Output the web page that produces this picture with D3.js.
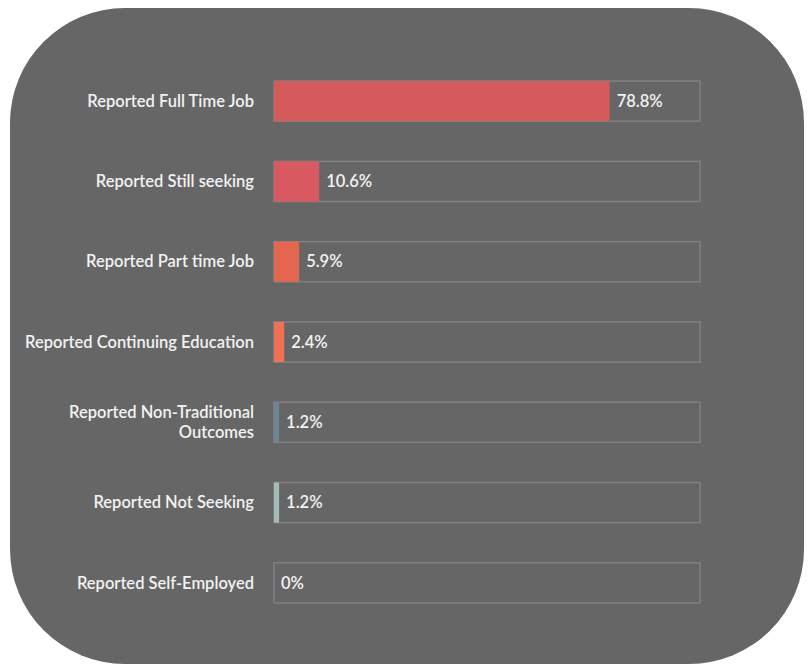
<!DOCTYPE html>
<html><head><meta charset="utf-8">
<script src="https://cdn.jsdelivr.net/npm/d3@7"></script>
<style>html,body{margin:0;padding:0;background:#fff;}</style>
</head><body>
<script>
const categories = [
  ["Reported Full Time Job"],
  ["Reported Still seeking"],
  ["Reported Part time Job"],
  ["Reported Continuing Education"],
  ["Reported Non-Traditional", "Outcomes"],
  ["Reported Not Seeking"],
  ["Reported Self-Employed"]
];
const values = [78.8, 10.6, 5.9, 2.4, 1.2, 1.2, 0];
const valueLabels = ["78.8%", "10.6%", "5.9%", "2.4%", "1.2%", "1.2%", "0%"];
const colors = ["#d45a5b", "#d85a60", "#e4664e", "#ef7052", "#6f8794", "#a5bbb8", "#a5bbb8"];

const W = 812, H = 666;
const svg = d3.select("body").append("svg").attr("width", W).attr("height", H);
svg.append("rect").attr("x", 10).attr("y", 8).attr("width", 794).attr("height", 656)
  .attr("rx", 115).attr("ry", 115).attr("fill", "#666666");

const x = d3.scaleLinear().domain([0, 100]).range([274, 700]);
const y = d3.scaleBand().domain(d3.range(values.length)).range([61, 623]).paddingInner(0.5).paddingOuter(0.25);

const g = svg.append("g");
const rows = g.selectAll("g.row").data(values).join("g").attr("class", "row");

rows.append("rect")
  .attr("x", x(0)).attr("y", (d, i) => y(i))
  .attr("width", x(100) - x(0)).attr("height", y.bandwidth())
  .attr("fill", "none").attr("stroke", "#818181").attr("stroke-width", 1.5);

rows.append("rect")
  .attr("x", x(0)).attr("y", (d, i) => y(i))
  .attr("width", d => x(d) - x(0)).attr("height", y.bandwidth())
  .attr("fill", (d, i) => colors[i]);

rows.append("text")
  .attr("x", d => x(d) + 7).attr("y", (d, i) => y(i) + y.bandwidth() / 2)
  .attr("dy", "0.35em")
  .attr("fill", "#f2f2f2").attr("font-family", "Lato, sans-serif").attr("font-size", 16.5)
  .attr("font-weight", 600)
  .text((d, i) => valueLabels[i]);

const labels = g.selectAll("text.cat").data(categories).join("text").attr("class", "cat")
  .attr("text-anchor", "end")
  .attr("fill", "#f2f2f2").attr("font-family", "Lato, sans-serif").attr("font-size", 16.5)
  .attr("font-weight", 600);
labels.each(function(d, i) {
  const t = d3.select(this);
  const cy = y(i) + y.bandwidth() / 2;
  const lh = 20;
  const start = cy - (d.length - 1) * lh / 2;
  d.forEach((line, j) => {
    t.append("tspan").attr("x", 254).attr("y", start + j * lh).attr("dy", "0.35em").text(line);
  });
});
</script>
</body></html>
